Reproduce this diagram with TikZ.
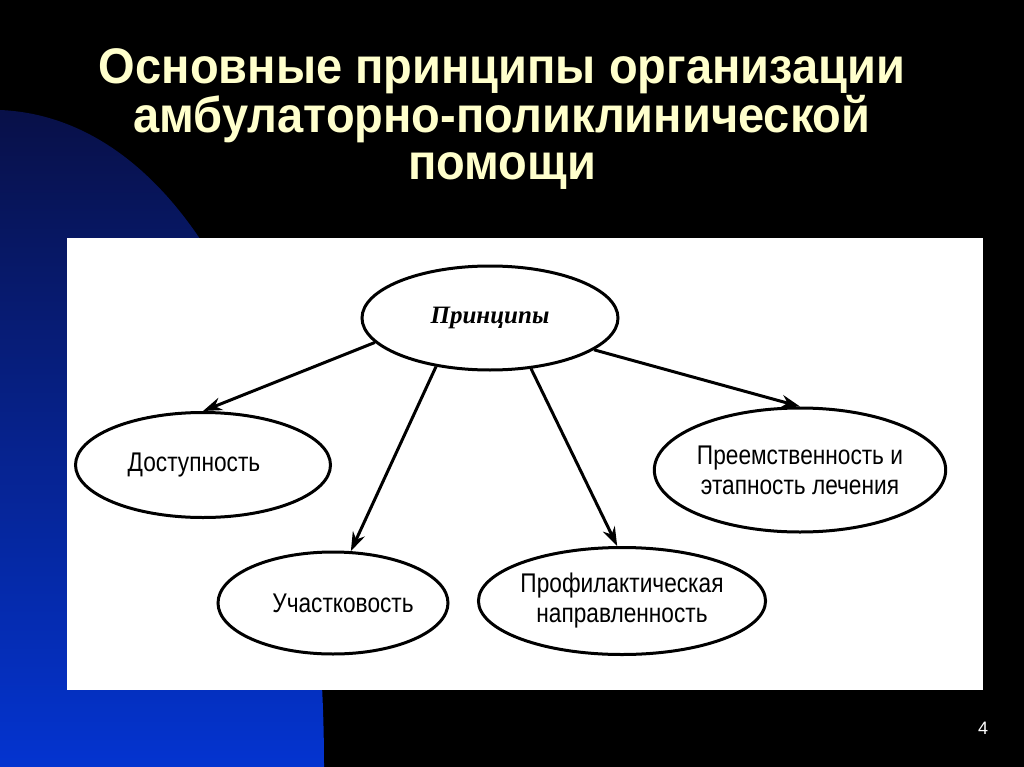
\documentclass[tikz,border=0pt]{standalone}
\usepackage{fontspec}
\setmainfont{Liberation Sans}
\newfontfamily\titlefont[FakeStretch=0.94]{Liberation Sans}
\newfontfamily\ovalfont[FakeStretch=0.84]{Liberation Sans}
\newfontfamily\headfont{Liberation Serif}
\usetikzlibrary{shapes.geometric,arrows.meta}
\definecolor{titlecream}{RGB}{255,255,204}
\definecolor{navytop}{RGB}{8,16,72}
\definecolor{navybottom}{RGB}{4,52,208}

\begin{document}
\begin{tikzpicture}[x=1pt,y=-1pt,
    oval/.style={
      ellipse,
      draw=black,
      line width=3pt,
      fill=white,
      inner sep=0pt,
      align=center,
      font=\ovalfont\fontsize{27}{30}\selectfont
    },
    >={Stealth[length=19pt,width=13pt]},
    link/.style={->,line width=3pt}
  ]
  \useasboundingbox (0,0) rectangle (1024,767);
  \fill[black] (0,0) rectangle (1024,767);
  \shade[top color=navytop,bottom color=navybottom]
    (0,110) .. controls (190,118) and (324,380) .. (324,767) -- (0,767) -- cycle;
  \fill[white] (67,238) rectangle (983,690);

  \node[text=titlecream,align=center,
    font=\titlefont\bfseries\fontsize{50}{46.5}\selectfont] (title) at (502,119)
    {Основные принципы организации\\амбулаторно-поликлинической\\помощи};

  \node[oval,minimum width=256pt,minimum height=104pt,
    font=\headfont\bfseries\itshape\fontsize{25}{28}\selectfont] (princ) at (490,318) {Принципы};
  \node[oval,minimum width=255pt,minimum height=105pt] (dost) at (203,465) {Доступность\hspace*{18pt}};
  \node[oval,minimum width=290pt,minimum height=124pt] (preem) at (800,470) {Преемственность и\\этапность лечения};
  \node[oval,minimum width=230pt,minimum height=102pt] (uchast) at (333,603) {\hspace*{20pt}Участковость};
  \node[oval,minimum width=260pt,minimum height=107pt] (profil) at (622,601) {Профилактическая\\направленность};

  \draw[link] (princ.192) -- (dost.north);
  \draw[link] (princ.222) -- (uchast.71);
  \draw[link] (princ.309) -- (profil.95);
  \draw[link] (princ.343) -- (preem.north);

  \node[text=white,font=\fontsize{18}{20}\selectfont] (pagenum) at (983,728) {4};
\end{tikzpicture}
\end{document}
